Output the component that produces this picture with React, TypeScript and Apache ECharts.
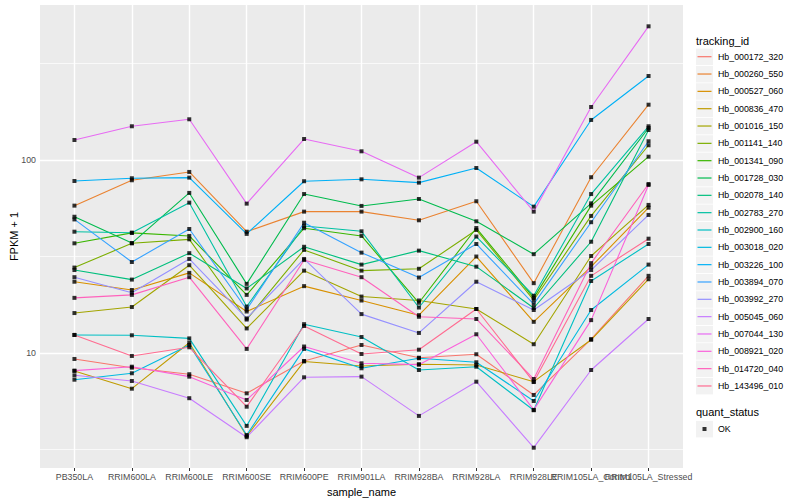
import React, { useEffect, useRef } from "react";
import * as echarts from "echarts";

const categories = [
  "PB350LA", "RRIM600LA", "RRIM600LE", "RRIM600SE", "RRIM600PE", "RRIM901LA",
  "RRIM928BA", "RRIM928LA", "RRIM928LE", "RRIM105LA_Control", "RRIM105LA_Stressed",
];

const seriesNames = [
  "Hb_000172_320", "Hb_000260_550", "Hb_000527_060", "Hb_000836_470", "Hb_001016_150",
  "Hb_001141_140", "Hb_001341_090", "Hb_001728_030", "Hb_002078_140", "Hb_002783_270",
  "Hb_002900_160", "Hb_003018_020", "Hb_003226_100", "Hb_003894_070", "Hb_003992_270",
  "Hb_005045_060", "Hb_007044_130", "Hb_008921_020", "Hb_014720_040", "Hb_143496_010",
];

const palette = [
  "#F8766D", "#EA8331", "#D89000", "#C09B00", "#A3A500", "#7CAE00", "#39B600", "#00BB4E",
  "#00BF7D", "#00C1A3", "#00BFC4", "#00BAE0", "#00B0F6", "#35A2FF", "#9590FF", "#C77CFF",
  "#E76BF3", "#FA62DB", "#FF62BC", "#FF6C91",
];

// FPKM + 1 values per sample (same order as categories)
const hb000172 = [9.31, 8.39, 7.76, 6.18, 9.09, 11.0, 9.45, 9.85, 6.06, 11.8, 25.1];
const hb000260 = [58.0, 78.5, 86.7, 42.5, 54.0, 54.0, 48.7, 61.1, 23.0, 81.4, 193.4];
const hb000527 = [23.4, 21.2, 26.0, 16.4, 22.2, 18.7, 15.7, 31.6, 14.5, 28.0, 56.6];
const hb000836 = [8.07, 6.53, 11.3, 3.71, 9.04, 8.56, 8.74, 8.66, 7.1, 11.7, 24.1];
const hb001016 = [16.1, 17.3, 28.5, 13.4, 26.7, 19.6, 18.7, 16.9, 11.1, 31.8, 58.5];
const hb001141 = [27.7, 37.0, 38.8, 14.9, 34.2, 26.7, 27.3, 43.4, 18.8, 51.3, 119.2];
const hb001341 = [37.0, 41.9, 40.4, 20.0, 44.3, 40.4, 18.2, 44.4, 19.3, 58.0, 104.0];
const hb001728 = [50.8, 37.1, 67.5, 22.8, 66.6, 57.8, 62.8, 48.1, 32.5, 59.6, 146.5];
const hb002078 = [26.9, 24.0, 32.9, 21.6, 35.5, 28.7, 33.9, 28.0, 17.1, 37.7, 143.0];
const hb002783 = [42.5, 42.0, 60.1, 17.4, 45.5, 42.7, 17.2, 40.1, 19.8, 66.6, 149.5];
const hb002900 = [12.4, 12.35, 11.9, 4.19, 14.1, 12.1, 8.16, 8.49, 5.05, 23.6, 36.7];
const hb003018 = [7.27, 7.85, 11.0, 3.76, 10.5, 8.33, 9.39, 8.95, 5.64, 16.7, 28.7];
const hb003226 = [77.8, 80.4, 81.0, 41.4, 77.6, 79.4, 76.3, 90.9, 57.3, 161.2, 272.4];
const hb003894 = [49.2, 29.6, 43.9, 16.8, 47.3, 33.1, 24.6, 36.7, 17.9, 47.6, 125.0];
const hb003992 = [24.7, 20.5, 30.7, 15.1, 30.7, 15.9, 12.7, 23.4, 16.7, 26.9, 51.9];
const hb005045 = [7.66, 7.16, 5.83, 3.66, 7.48, 7.54, 4.72, 7.1, 3.23, 8.16, 15.0];
const hb007044 = [126.9, 149.5, 162.5, 59.4, 128.4, 110.9, 81.0, 124.4, 54.0, 188.2, 492.7];
const hb008921 = [8.1, 8.49, 7.54, 5.71, 10.8, 8.84, 8.7, 12.5, 5.07, 14.8, 74.2];
const hb014720 = [19.3, 20.0, 24.7, 10.5, 30.3, 24.7, 15.4, 15.0, 7.33, 29.2, 75.1];
const hb143496 = [12.4, 9.65, 10.7, 5.27, 13.8, 9.88, 10.4, 16.9, 7.07, 25.1, 39.1];

const seriesValues = [
  hb000172, hb000260, hb000527, hb000836, hb001016, hb001141, hb001341, hb001728, hb002078,
  hb002783, hb002900, hb003018, hb003226, hb003894, hb003992, hb005045, hb007044, hb008921,
  hb014720, hb143496,
];

const yMajor = [10, 100];
const yMinor = [3.1623, 31.623, 316.23];

const FONT = '"Liberation Sans", Arial, Helvetica, sans-serif';

export default function App() {
  const ref = useRef<HTMLDivElement>(null);

  useEffect(() => {
    if (!ref.current) return;
    const chart = echarts.init(ref.current, null, { renderer: "svg" });

    const lineSeries = seriesNames.map((name, s) => ({
      name,
      type: "line",
      z: 2,
      symbol: "none",
      showSymbol: false,
      silent: true,
      color: palette[s],
      lineStyle: { color: palette[s], width: 1.1 },
      emphasis: { disabled: true },
      data: seriesValues[s].map((v, i) => [i, Math.log10(v)]),
    }));

    const points: number[][] = [];
    seriesValues.forEach((arr) => arr.forEach((v, i) => points.push([i, Math.log10(v)])));

    const gridLines: any[] = [];
    yMajor.forEach((v) =>
      gridLines.push({ yAxis: Math.log10(v), lineStyle: { color: "#FFFFFF", width: 1.4, type: "solid" } })
    );
    yMinor.forEach((v) =>
      gridLines.push({ yAxis: Math.log10(v), lineStyle: { color: "#FFFFFF", width: 0.7, type: "solid" } })
    );
    categories.forEach((_, i) =>
      gridLines.push({ xAxis: i, lineStyle: { color: "#FFFFFF", width: 1.4, type: "solid" } })
    );

    const keyTop = 48.2;
    const keyStep = 17.33;
    const keyBoxes = seriesNames.map((_, i) => ({
      type: "rect",
      shape: { x: 696, y: keyTop + i * keyStep + 0.4, width: 17, height: 16.5 },
      style: { fill: "#F2F2F2" },
      silent: true,
    }));

    const tickPos = categories.map((_, i) => i);
    const evenPos = tickPos.filter((i) => i % 2 === 0);
    const oddPos = tickPos.filter((i) => i % 2 === 1);

    const labelBase = {
      formatter: (v: number) => categories[Math.round(v)] ?? "",
      fontSize: 8.8,
      color: "#4D4D4D",
      margin: 4.5,
      fontFamily: FONT,
      hideOverlap: false,
      showMinLabel: true,
      showMaxLabel: true,
    };

    const option: any = {
      animation: false,
      backgroundColor: "#FFFFFF",
      textStyle: { fontFamily: FONT },
      grid: {
        left: 40,
        top: 5,
        width: 643,
        height: 463,
        show: true,
        backgroundColor: "#EBEBEB",
        borderWidth: 0,
        containLabel: false,
        outerBoundsMode: "none",
      },
      xAxis: [
        {
          type: "value",
          min: -0.6,
          max: 10.6,
          position: "bottom",
          name: "sample_name",
          nameLocation: "middle",
          nameGap: 18.5,
          nameMoveOverlap: false,
          nameTextStyle: { fontSize: 11, color: "#000000", fontFamily: FONT },
          axisLine: { show: false },
          splitLine: { show: false },
          axisTick: {
            show: true,
            customValues: tickPos,
            length: 3,
            lineStyle: { color: "#333333", width: 1 },
          },
          axisLabel: { ...labelBase, customValues: evenPos },
        },
        {
          type: "value",
          min: -0.6,
          max: 10.6,
          position: "bottom",
          offset: 0,
          axisLine: { show: false },
          splitLine: { show: false },
          axisTick: { show: false },
          axisLabel: { ...labelBase, customValues: oddPos },
        },
      ],
      yAxis: {
        type: "value",
        min: 0.404,
        max: 2.803,
        name: "FPKM + 1",
        nameLocation: "middle",
        nameGap: 21,
        nameMoveOverlap: false,
        nameTextStyle: { fontSize: 11, color: "#000000", fontFamily: FONT },
        axisLine: { show: false },
        splitLine: { show: false },
        axisTick: {
          show: true,
          customValues: yMajor.map((v) => Math.log10(v)),
          length: 3,
          lineStyle: { color: "#333333", width: 1 },
        },
        axisLabel: {
          customValues: yMajor.map((v) => Math.log10(v)),
          formatter: (v: number) => String(Math.round(Math.pow(10, v))),
          fontSize: 8.8,
          color: "#4D4D4D",
          margin: 4,
          fontFamily: FONT,
          showMinLabel: true,
          showMaxLabel: true,
        },
      },
      legend: [
        {
          orient: "vertical",
          left: 696,
          top: keyTop,
          padding: 0,
          itemWidth: 17,
          itemHeight: 17,
          itemGap: 0.33,
          selectedMode: false,
          icon: "path://M0,0M17,17M1.5,7.9H15.5V9.1H1.5Z",
          itemStyle: { borderWidth: 0 },
          textStyle: { fontSize: 8.8, color: "#000000", fontFamily: FONT },
          data: seriesNames,
        },
        {
          orient: "vertical",
          left: 696,
          top: 420.5,
          padding: 0,
          itemWidth: 17,
          itemHeight: 17,
          itemGap: 0,
          selectedMode: false,
          itemStyle: { borderWidth: 0 },
          textStyle: { fontSize: 8.8, color: "#000000", fontFamily: FONT },
          data: [{ name: "OK", icon: "path://M0,0M17,17M6.5,6.5H10.5V10.5H6.5Z" }],
        },
      ],
      graphic: [
        ...keyBoxes,
        {
          type: "rect",
          shape: { x: 696, y: 420.9, width: 17, height: 16.5 },
          style: { fill: "#F2F2F2" },
          silent: true,
        },
        {
          type: "text",
          x: 696,
          y: 40.5,
          style: { text: "tracking_id", fontSize: 11, fill: "#000000", fontFamily: FONT, verticalAlign: "middle" },
        },
        {
          type: "text",
          x: 696,
          y: 412,
          style: { text: "quant_status", fontSize: 11, fill: "#000000", fontFamily: FONT, verticalAlign: "middle" },
        },
      ],
      series: [
        ...lineSeries,
        {
          name: "OK",
          type: "scatter",
          z: 3,
          silent: true,
          symbol: "rect",
          symbolSize: 4,
          itemStyle: { color: "#000000" },
          emphasis: { disabled: true },
          data: points,
          markLine: {
            z: 1,
            silent: true,
            symbol: ["none", "none"],
            label: { show: false },
            emphasis: { disabled: true },
            animation: false,
            data: gridLines,
          },
        },
      ],
    };

    chart.setOption(option);
    return () => chart.dispose();
  }, []);

  return (
    <div
      ref={ref}
      style={{ position: "fixed", left: 0, top: 0, width: 800, height: 500, background: "#FFFFFF" }}
    />
  );
}
